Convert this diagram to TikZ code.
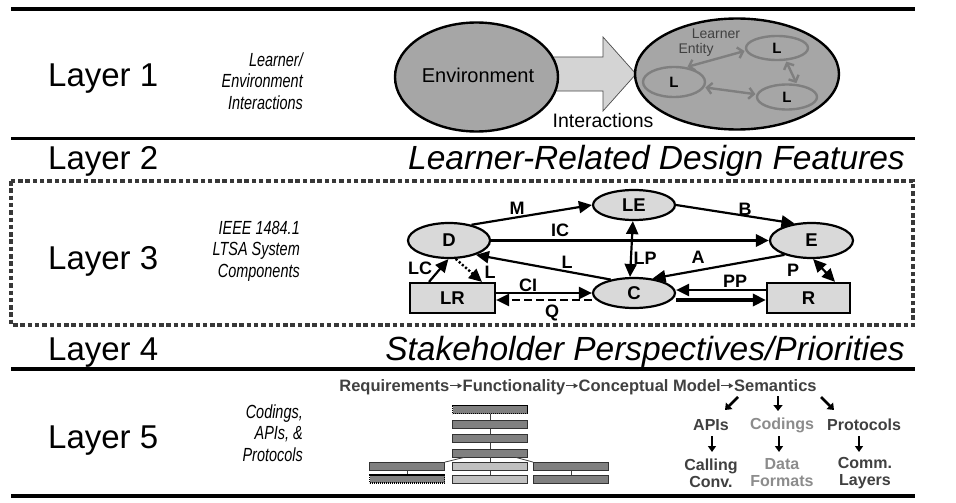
\documentclass[tikz,border=0pt]{standalone}
\usepackage{fontspec}
\setmainfont{Liberation Sans}
\newfontfamily\narrowit[FakeStretch=0.76]{Liberation Sans Italic}
\usetikzlibrary{arrows.meta,shapes.geometric}
\definecolor{envgray}{HTML}{A6A6A6}
\definecolor{arrfill}{HTML}{D4D4D4}
\definecolor{lgray}{HTML}{7F7F7F}
\definecolor{nodegray}{HTML}{D9D9D9}
\definecolor{boxdark}{HTML}{808080}
\definecolor{boxlight}{HTML}{C0C0C0}
\definecolor{tdark}{HTML}{404040}
\definecolor{tlight}{HTML}{8C8C8C}
\newcommand\reqarrow{\tikz[x=1pt,y=1pt,baseline=0pt]\draw[line width=1.3pt,-{Triangle[length=4.5pt,width=5pt]}] (0.5,5.5) -- (12.5,5.5);}
\tikzset{
  layerlbl/.style={anchor=base west,inner sep=0,font=\fontsize{33}{36}\selectfont},
  heading/.style={anchor=base east,inner sep=0,font=\fontsize{33.5}{36}\selectfont\itshape},
  sidenote/.style={anchor=east,inner sep=0,align=right,font=\narrowit\fontsize{19}{21.5}\selectfont},
  rule/.style={line width=3.8pt},
  bigell/.style={ellipse,draw=black,line width=2.4pt,fill=envgray,inner sep=0},
  lell/.style={ellipse,draw=lgray,line width=2.4pt,inner sep=0,font=\fontsize{15}{15}\selectfont\bfseries},
  larr/.style={draw=lgray,line width=2.4pt,{Straight Barb[length=5pt,width=11pt]}-{Straight Barb[length=5pt,width=11pt]},shorten <=1pt,shorten >=1pt},
  comp/.style={ellipse,draw=black,line width=2.2pt,fill=nodegray,minimum width=82pt,minimum height=32pt,inner sep=0,font=\fontsize{18.5}{18.5}\selectfont\bfseries},
  compbox/.style={rectangle,draw=black,line width=2.2pt,fill=nodegray,minimum width=84pt,minimum height=30pt,inner sep=0,font=\fontsize{18.5}{18.5}\selectfont\bfseries},
  tip/.tip={Triangle[length=13pt,width=12pt]},
  earr/.style={draw=black,line width=2.2pt,-tip},
  earr2/.style={draw=black,line width=2.2pt,tip-tip},
  elbl/.style={inner sep=0,font=\fontsize{18}{18}\selectfont\bfseries},
  tbox/.style={rectangle,draw=black!80,line width=0.8pt,fill=boxdark,minimum width=75pt,minimum height=8pt,inner sep=0},
  tboxl/.style={tbox,fill=boxlight},
  tboxd/.style={tbox,draw=black,dash pattern=on 1.2pt off 0.8pt,line width=1.4pt},
  tline/.style={draw=black!75,line width=0.8pt},
  l5txt/.style={inner sep=0,font=\fontsize{16}{16}\selectfont\bfseries,align=center},
  sarr/.style={draw=black,line width=2.6pt,-{Triangle[length=6pt,width=9pt]}},
  sarr2/.style={draw=black,line width=1.6pt,-{Triangle[length=6pt,width=8pt]}}
}
\begin{document}
\begin{tikzpicture}[x=1pt,y=-1pt]
\useasboundingbox (0,0) rectangle (956,503);
\fill[white] (0,0) rectangle (956,503);
% rules
\draw[rule] (11,9) -- (915,9);
\draw[rule] (11,138.5) -- (915,138.5);
\draw[rule] (11,369) -- (915,369);
\draw[rule] (11,496) -- (915,496);
\draw[draw=black!78,line width=4.5pt,dash pattern=on 4.5pt off 2.8pt] (11,181) rectangle (913,325);
% layer labels
\node[layerlbl] (l1) at (48,87) {Layer 1};
\node[layerlbl] (l2) at (48,169) {Layer 2};
\node[layerlbl] (l3) at (48,269) {Layer 3};
\node[layerlbl] (l4) at (48,360) {Layer 4};
\node[layerlbl] (l5) at (48,448) {Layer 5};
\node[heading] (h2) at (905,169) {Learner-Related Design Features};
\node[heading] (h4) at (905,360) {Stakeholder Perspectives/Priorities};
\node[sidenote] (s1) at (303,81) {Learner/\\Environment\\Interactions};
\node[sidenote] (s3) at (300,251) {IEEE 1484.1\\LTSA System\\Components};
\node[sidenote] (s5) at (303,433) {Codings,\\APIs, \&\\Protocols};
% ---------- layer 1
\fill[arrfill,draw=black!70,line width=0.7pt] (540,57) -- (603,57) -- (603,37) -- (636,74) -- (603,111) -- (603,91) -- (540,91) -- cycle;
\node[bigell,minimum width=163pt,minimum height=109pt] (env) at (476.5,77) {};
\node[inner sep=0,font=\fontsize{20}{20}\selectfont] (envt) at (478,75) {Environment};
\node[inner sep=0,font=\fontsize{19.5}{19.5}\selectfont] (inter) at (603,121) {Interactions};
\node[bigell,minimum width=204pt,minimum height=111pt] (ent) at (737,74) {};
\node[lell,minimum width=62pt,minimum height=30pt] (L1) at (674,82) {L};
\node[lell,minimum width=62pt,minimum height=24pt] (L2) at (777,48) {L};
\node[lell,minimum width=60pt,minimum height=25pt] (L3) at (787,97) {L};
\node[inner sep=0,text=tdark,font=\fontsize{14}{14}\selectfont] (lent1) at (716,34) {Learner};
\node[inner sep=0,text=tdark,font=\fontsize{14}{14}\selectfont] (lent2) at (696,50) {Entity};
\draw[larr] (L1.50) -- (L2.185);
\draw[larr] (L2.-55) -- (L3.53);
\draw[larr] (L1.-10) -- (L3.175);
% ---------- layer 3
\node[comp,minimum height=35pt] (D) at (449,240.5) {D};
\node[comp,minimum height=30pt] (LE) at (634,205) {LE};
\node[comp,minimum width=83pt,minimum height=35pt] (E) at (811.5,240.5) {E};
\node[comp,minimum height=30pt] (C) at (634,293) {C};
\node[compbox,minimum width=85pt] (LR) at (452.5,298) {LR};
\node[compbox,minimum width=83pt] (R) at (808.5,298) {R};
\draw[earr] (D.35) -- (LE.west);
\draw[earr] (LE.east) -- (E.135);
\draw[earr,line width=3.4pt] (D.east) -- (E.west);
\draw[earr] (C.150) -- (D.-28);
\draw[earr2] (LE.-94) -- (C.104);
\draw[earr] (E.-152) -- (C.38);
\draw[earr] (R.west |- 0,290) -- (C.east |- 0,290);
\draw[earr,line width=3.2pt] (C.east |- 0,300) -- (R.west |- 0,300);
\draw[earr2] (E.-85) -- (R.north -| 835,0);
\draw[earr] (LR.north -| 429,0) -- (D.-92);
\draw[earr,dotted,line width=2.4pt] (D.-70) -- (LR.north -| 482,0);
\draw[earr] (LR.east |- 0,293) -- (C.west |- 0,293);
\draw[earr,dash pattern=on 8pt off 4pt] (C.west |- 0,300) -- (LR.east |- 0,300);
\node[elbl] (lM) at (517,208) {M};
\node[elbl] (lB) at (745,209) {B};
\node[elbl] (lIC) at (560,230) {IC};
\node[elbl] (lL) at (567,262) {L};
\node[elbl] (lLP) at (645,258) {LP};
\node[elbl] (lA) at (698,257) {A};
\node[elbl] (lP) at (793,270) {P};
\node[elbl] (lPP) at (735,281) {PP};
\node[elbl] (lCI) at (528,285) {CI};
\node[elbl] (lQ) at (552,313) {Q};
\node[elbl] (lLC) at (420,268) {LC};
\node[elbl] (lL2) at (490,272) {L};
% ---------- layer 5
\node[l5txt,text=tdark,font=\fontsize{16.5}{16.5}\selectfont\bfseries] (req) at (578,387) {Requirements\reqarrow Functionality\reqarrow Conceptual Model\reqarrow Semantics};
\coordinate (a1s) at (738,397); \coordinate (a1e) at (725,410);
\coordinate (a2s) at (778,396); \coordinate (a2e) at (778,411);
\coordinate (a3s) at (821,397); \coordinate (a3e) at (834,410);
\draw[sarr] (a1s) -- (a1e);
\draw[sarr] (a2s) -- (a2e);
\draw[sarr] (a3s) -- (a3e);
\node[l5txt,text=tdark] (apis) at (711,425) {APIs};
\node[l5txt,text=tlight] (cod) at (782,425) {Codings};
\node[l5txt,text=tdark] (prot) at (864,425) {Protocols};
\coordinate (b1s) at (712,436); \coordinate (b1e) at (712,452);
\coordinate (b2s) at (779,436); \coordinate (b2e) at (779,452);
\coordinate (b3s) at (859,436); \coordinate (b3e) at (859,452);
\draw[sarr2] (b1s) -- (b1e);
\draw[sarr2] (b2s) -- (b2e);
\draw[sarr2] (b3s) -- (b3e);
\node[l5txt,text=tdark] (call) at (711,473) {Calling\\[1pt]Conv.};
\node[l5txt,text=tlight] (data) at (782,473) {Data\\[1pt]Formats};
\node[l5txt,text=tdark] (comm) at (865,473) {Comm.\\[1pt]Layers};
% tree
\node[tboxd] (t1) at (490,409.5) {};
\node[tbox] (t2) at (490,424.5) {};
\node[tbox] (t3) at (490,438.5) {};
\node[tbox] (t4) at (490,453) {};
\node[tbox] (t5a) at (407,466.5) {};
\node[tboxl] (t5b) at (490,466.5) {};
\node[tbox] (t5c) at (571,466.5) {};
\node[tboxd] (t6a) at (407,479) {};
\node[tboxl] (t6b) at (490,479) {};
\node[tbox] (t6c) at (571,479) {};
\draw[tline] (t1) -- (t2);
\draw[tline] (t2) -- (t3);
\draw[tline] (t3) -- (t4);
\draw[tline] (t4.south west) ++(12,0) -- (t5a.north east);
\draw[tline] (t4) -- (t5b);
\draw[tline] (t4.south east) ++(-12,0) -- (t5c.north west);
\draw[tline] (t5a) -- (t6a);
\draw[tline] (t5b) -- (t6b);
\draw[tline] (t5c) -- (t6c);
\end{tikzpicture}
\end{document}
